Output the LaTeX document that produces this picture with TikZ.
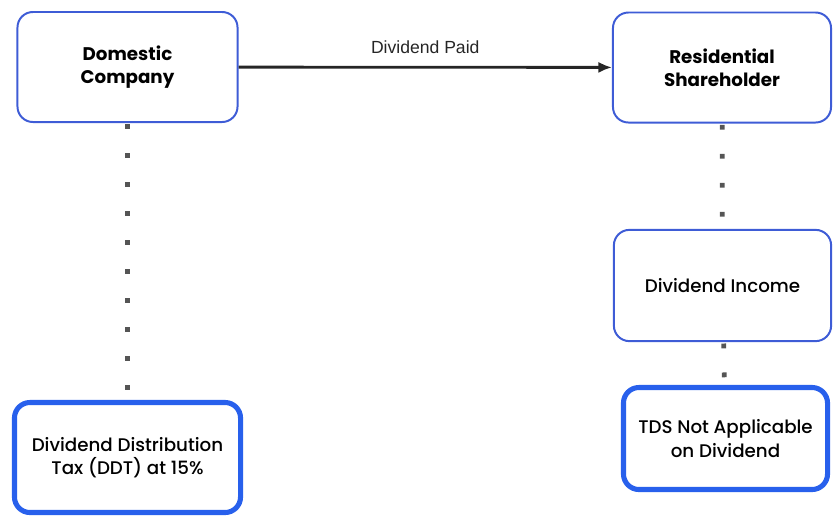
\documentclass[tikz,border=0pt]{standalone}
\usepackage{fontspec}
\setmainfont{Poppins}[UprightFont={* Medium}, BoldFont={* Bold}]
\newfontfamily\labelfont{Liberation Sans}
\usetikzlibrary{arrows.meta, positioning}
\tikzset{
    %Define standard arrow tip
    >={Latex[length=3.4mm,width=2.8mm]},
}
\definecolor{boxblue}{RGB}{62,92,214}
\definecolor{boxbright}{RGB}{40,96,236}
\definecolor{dotgray}{RGB}{85,85,85}

\begin{document}
\begin{tikzpicture}[
    x=0.025cm, y=-0.025cm,
    box/.style = {draw=boxblue, line width=1.4pt, rounded corners=11pt,
                  fill=white, align=center, font=\fontsize{13}{16.5}\selectfont,
                  minimum width=5.5cm, minimum height=2.75cm},
    result/.style = {box, draw=boxbright, line width=3.6pt},
    dotline/.style = {dotgray, line width=3.4pt,
                      dash pattern=on 3.4pt off 17.2pt, dash phase=-1pt},
  ]
  \useasboundingbox (0,0) rectangle (833,516);
  \node[box, font=\bfseries\fontsize{13}{16.5}\selectfont] (company) at (127.5,67) {Domestic\\Company};
  \node[box, font=\bfseries\fontsize{13}{16.5}\selectfont, minimum width=5.45cm] (holder) at (722,67.5) {Residential\\Shareholder};
  \node[box, minimum width=5.43cm, minimum height=2.78cm] (income) at (722.5,285.5) {Dividend Income};
  \node[result, minimum width=5.1cm, minimum height=2.55cm] (tds) at (725.5,438.5) {TDS Not Applicable\\on Dividend};
  \node[result, minimum width=5.65cm] (ddt) at (127.5,457.5) {Dividend Distribution\\Tax (DDT) at 15\%};

  \draw[->, line width=2pt, black!85] (company) -- node[above=5pt, font=\labelfont\fontsize{12.5}{14}\selectfont] (paid) {Dividend Paid} (holder);

  \draw[dotline] (company) -- (ddt);
  \draw[dotline] (holder) -- (income);
  \draw[dotline] (income) -- (tds);
\end{tikzpicture}
\end{document}
